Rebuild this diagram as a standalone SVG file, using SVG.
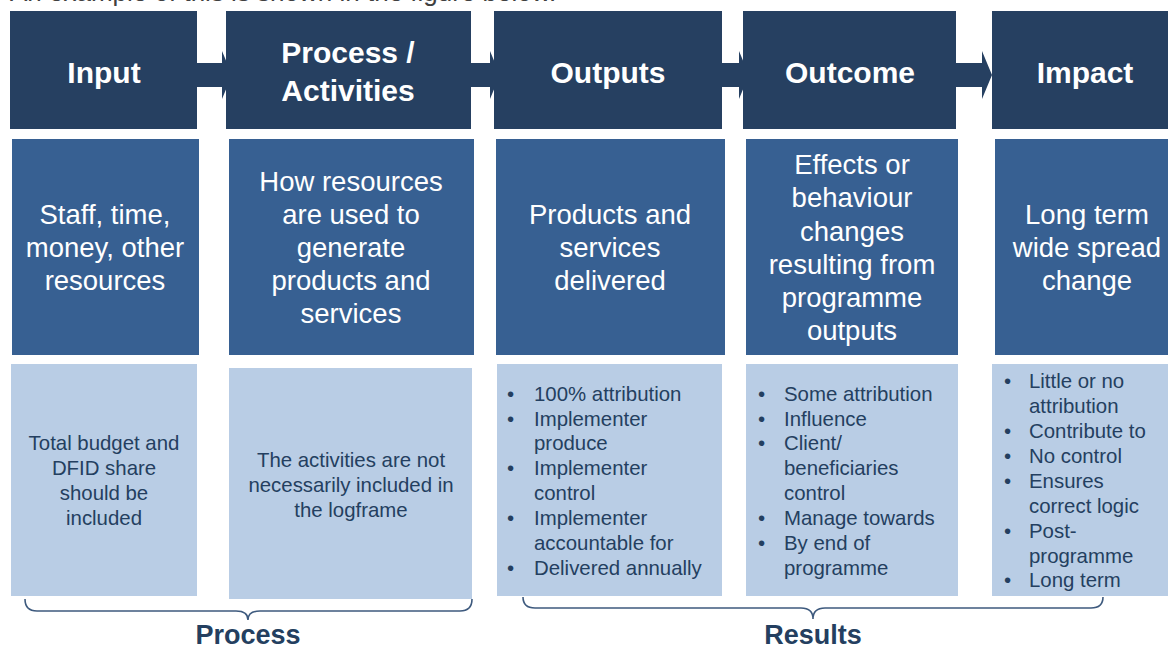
<svg xmlns="http://www.w3.org/2000/svg" width="1168" height="646" viewBox="0 0 1168 646">
<style>
.hd{fill:#264061}
.md{fill:#376092}
.lt{fill:#B9CDE5}
.ht{font-family:"Liberation Sans",Arial,sans-serif;font-weight:bold;font-size:30px;fill:#fff;text-anchor:middle}
.mt{font-family:"Liberation Sans",Arial,sans-serif;font-size:27.5px;fill:#fff;text-anchor:middle}
.lc{font-family:"Liberation Sans",Arial,sans-serif;font-size:20.4px;fill:#243F60;text-anchor:middle}
.lb{font-family:"Liberation Sans",Arial,sans-serif;font-size:20.4px;fill:#243F60}
.bl{font-family:"Liberation Sans",Arial,sans-serif;font-weight:bold;font-size:27px;fill:#243F60;text-anchor:middle}
.arr{fill:#264061}
.br{fill:none;stroke:#3E5A7E;stroke-width:1.6}
</style>
<text x="10" y="1" font-family="'Liberation Sans',Arial,sans-serif" font-size="26" fill="#404040">An example of this is shown in the figure below.</text>
<g id="connectors">
<path class="arr" d="M190,63 H222 V51 L232,75 L222,99 V87 H190 Z"/>
<path class="arr" d="M465,63 H490 V51 L500,75 L490,99 V87 H465 Z"/>
<path class="arr" d="M716,63 H739 V51 L749,75 L739,99 V87 H716 Z"/>
<path class="arr" d="M950,63 H982 V51 L992,75 L982,99 V87 H950 Z"/>
</g>
<g id="input">
<rect class="hd" x="10" y="11" width="187" height="118"/>
<text class="ht" x="104" y="83">Input</text>
<rect class="md" x="12" y="139" width="187" height="216"/>
<text class="mt"><tspan x="105" y="224">Staff, time,</tspan><tspan x="105" y="257">money, other</tspan><tspan x="105" y="290">resources</tspan></text>
<rect class="lt" x="11" y="364" width="186" height="232"/>
<text class="lc"><tspan x="104" y="450">Total budget and</tspan><tspan x="104" y="475">DFID share</tspan><tspan x="104" y="500">should be</tspan><tspan x="104" y="525">included</tspan></text>
</g>
<g id="process">
<rect class="hd" x="226" y="11" width="245" height="118"/>
<text class="ht"><tspan x="348" y="63">Process /</tspan><tspan x="348" y="101">Activities</tspan></text>
<rect class="md" x="229" y="139" width="245" height="216"/>
<text class="mt"><tspan x="351" y="191">How resources</tspan><tspan x="351" y="224">are used to</tspan><tspan x="351" y="257">generate</tspan><tspan x="351" y="290">products and</tspan><tspan x="351" y="323">services</tspan></text>
<rect class="lt" x="229" y="368" width="243" height="231"/>
<text class="lc"><tspan x="351" y="467">The activities are not</tspan><tspan x="351" y="492">necessarily included in</tspan><tspan x="351" y="517">the logframe</tspan></text>
</g>
<g id="outputs">
<rect class="hd" x="494" y="11" width="228" height="118"/>
<text class="ht" x="608" y="83">Outputs</text>
<rect class="md" x="496" y="139" width="229" height="216"/>
<text class="mt"><tspan x="610" y="224">Products and</tspan><tspan x="610" y="257">services</tspan><tspan x="610" y="290">delivered</tspan></text>
<rect class="lt" x="497" y="364" width="225" height="232"/>
<text class="lb"><tspan x="507" y="401">•</tspan><tspan x="507" y="426">•</tspan><tspan x="507" y="475">•</tspan><tspan x="507" y="525">•</tspan><tspan x="507" y="575">•</tspan></text>
<text class="lb"><tspan x="534" y="401">100% attribution</tspan><tspan x="534" y="426">Implementer</tspan><tspan x="534" y="450">produce</tspan><tspan x="534" y="475">Implementer</tspan><tspan x="534" y="500">control</tspan><tspan x="534" y="525">Implementer</tspan><tspan x="534" y="550">accountable for</tspan><tspan x="534" y="575">Delivered annually</tspan></text>
</g>
<g id="outcome">
<rect class="hd" x="743" y="11" width="213" height="118"/>
<text class="ht" x="850" y="83">Outcome</text>
<rect class="md" x="746" y="139" width="212" height="216"/>
<text class="mt"><tspan x="852" y="174">Effects or</tspan><tspan x="852" y="207">behaviour</tspan><tspan x="852" y="241">changes</tspan><tspan x="852" y="274">resulting from</tspan><tspan x="852" y="307">programme</tspan><tspan x="852" y="340">outputs</tspan></text>
<rect class="lt" x="746" y="364" width="212" height="232"/>
<text class="lb"><tspan x="758" y="401">•</tspan><tspan x="758" y="426">•</tspan><tspan x="758" y="450">•</tspan><tspan x="758" y="525">•</tspan><tspan x="758" y="550">•</tspan></text>
<text class="lb"><tspan x="784" y="401">Some attribution</tspan><tspan x="784" y="426">Influence</tspan><tspan x="784" y="450">Client/</tspan><tspan x="784" y="475">beneficiaries</tspan><tspan x="784" y="500">control</tspan><tspan x="784" y="525">Manage towards</tspan><tspan x="784" y="550">By end of</tspan><tspan x="784" y="575">programme</tspan></text>
</g>
<g id="impact">
<rect class="hd" x="992" y="11" width="176" height="118"/>
<text class="ht" x="1085" y="83">Impact</text>
<rect class="md" x="995" y="139" width="173" height="216"/>
<text class="mt"><tspan x="1087" y="224">Long term</tspan><tspan x="1087" y="257">wide spread</tspan><tspan x="1087" y="290">change</tspan></text>
<rect class="lt" x="992" y="364" width="176" height="232"/>
<text class="lb"><tspan x="1004" y="388">•</tspan><tspan x="1004" y="438">•</tspan><tspan x="1004" y="463">•</tspan><tspan x="1004" y="488">•</tspan><tspan x="1004" y="538">•</tspan><tspan x="1004" y="587">•</tspan></text>
<text class="lb"><tspan x="1029" y="388">Little or no</tspan><tspan x="1029" y="413">attribution</tspan><tspan x="1029" y="438">Contribute to</tspan><tspan x="1029" y="463">No control</tspan><tspan x="1029" y="488">Ensures</tspan><tspan x="1029" y="513">correct logic</tspan><tspan x="1029" y="538">Post-</tspan><tspan x="1029" y="563">programme</tspan><tspan x="1029" y="587">Long term</tspan></text>
</g>
<g id="process-group">
<path class="br" d="M25,599 Q25,611 37,611 L236,611 Q248,611 248,620 Q248,611 260,611 L460,611 Q472,611 472,599"/>
<text class="bl" x="248" y="644">Process</text>
</g>
<g id="results-group">
<path class="br" d="M523,597 Q523,608 535,608 L801,608 Q813,608 813,619 Q813,608 825,608 L1091,608 Q1103,608 1103,597"/>
<text class="bl" x="813" y="644">Results</text>
</g>
</svg>
